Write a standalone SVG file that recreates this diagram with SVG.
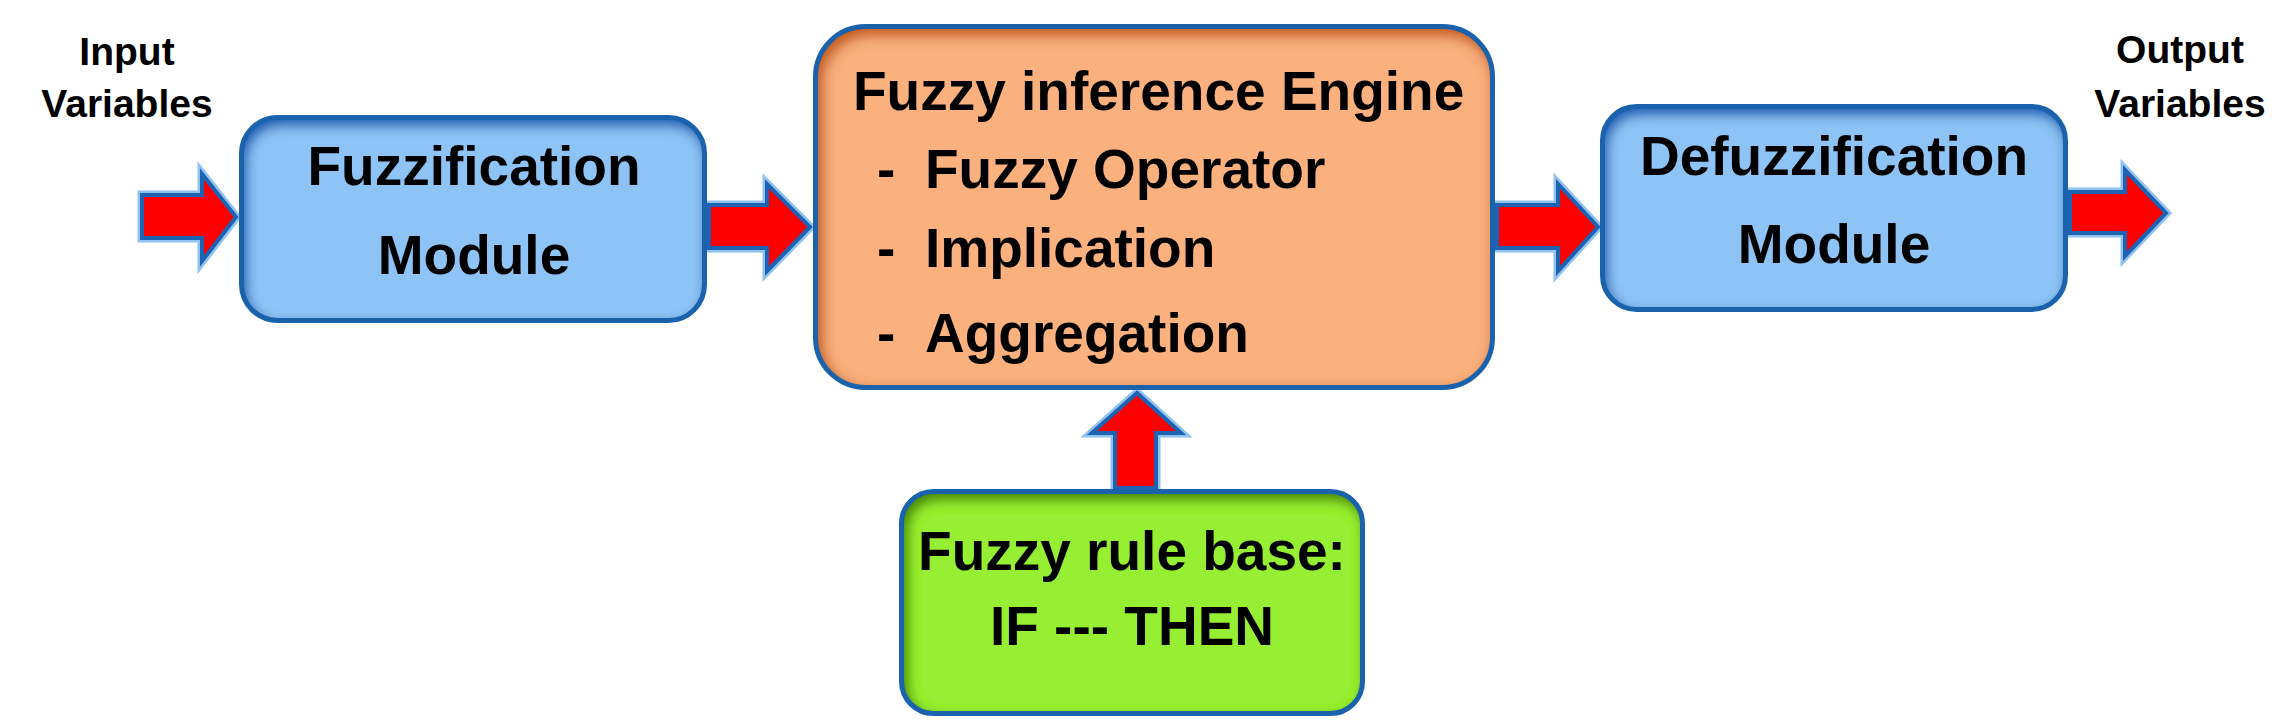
<svg xmlns="http://www.w3.org/2000/svg" width="2292" height="725" viewBox="0 0 2292 725">
  <style>
    .lbl { font-family: "Liberation Sans", Arial, sans-serif; font-size: 39px; font-weight: bold; fill: #000; text-anchor: middle; }
    .box-t { font-family: "Liberation Sans", Arial, sans-serif; font-size: 55px; font-weight: bold; fill: #000; }
    .mid { text-anchor: middle; }
    .edge { fill: none; stroke: #1b62ad; stroke-width: 5; }
    .arrow { fill: #ff0000; stroke: #1c63b3; stroke-width: 4; stroke-linejoin: miter; }
    .arrow-glow { fill: none; stroke: #8fc2ef; stroke-width: 9; stroke-linejoin: miter; }
  </style>
  <defs>
    <filter id="shBlue" x="-10%" y="-15%" width="120%" height="130%">
      <feFlood flood-color="#1a64b8" result="c"/>
      <feComposite in="c" in2="SourceAlpha" operator="out" result="o"/>
      <feGaussianBlur in="o" stdDeviation="7" result="b"/>
      <feOffset in="b" dx="3" dy="6" result="bo"/>
      <feComposite in="bo" in2="SourceAlpha" operator="in" result="s"/>
      <feMerge><feMergeNode in="SourceGraphic"/><feMergeNode in="s"/><feMergeNode in="s"/></feMerge>
    </filter>
    <filter id="shOrange" x="-10%" y="-15%" width="120%" height="130%">
      <feFlood flood-color="#c4580e" result="c"/>
      <feComposite in="c" in2="SourceAlpha" operator="out" result="o"/>
      <feGaussianBlur in="o" stdDeviation="8" result="b"/>
      <feOffset in="b" dx="4" dy="6" result="bo"/>
      <feComposite in="bo" in2="SourceAlpha" operator="in" result="s"/>
      <feMerge><feMergeNode in="SourceGraphic"/><feMergeNode in="s"/><feMergeNode in="s"/></feMerge>
    </filter>
    <filter id="shGreen" x="-10%" y="-15%" width="120%" height="130%">
      <feFlood flood-color="#4a8a08" result="c"/>
      <feComposite in="c" in2="SourceAlpha" operator="out" result="o"/>
      <feGaussianBlur in="o" stdDeviation="7" result="b"/>
      <feOffset in="b" dx="4" dy="6" result="bo"/>
      <feComposite in="bo" in2="SourceAlpha" operator="in" result="s"/>
      <feMerge><feMergeNode in="SourceGraphic"/><feMergeNode in="s"/><feMergeNode in="s"/></feMerge>
    </filter>
  </defs>

  <rect x="0" y="0" width="2292" height="725" fill="#ffffff"/>

  <g id="connectors">
    <g id="arrow-input">
      <polygon class="arrow-glow" points="142,195 202,195 202,174 236,217 202,261 202,238 142,238"/>
      <polygon class="arrow" points="142,195 202,195 202,174 236,217 202,261 202,238 142,238"/>
    </g>
    <g id="arrow-fuzz-engine">
      <polygon class="arrow-glow" points="709,205 767,205 767,184 810,227 767,271 767,248 709,248"/>
      <polygon class="arrow" points="709,205 767,205 767,184 810,227 767,271 767,248 709,248"/>
    </g>
    <g id="arrow-engine-defuzz">
      <polygon class="arrow-glow" points="1497,205 1558,205 1558,184 1598,227 1558,271 1558,248 1497,248"/>
      <polygon class="arrow" points="1497,205 1558,205 1558,184 1598,227 1558,271 1558,248 1497,248"/>
    </g>
    <g id="arrow-output">
      <polygon class="arrow-glow" points="2070,192 2125,192 2125,170 2166,213 2125,256 2125,233 2070,233"/>
      <polygon class="arrow" points="2070,192 2125,192 2125,170 2166,213 2125,256 2125,233 2070,233"/>
    </g>
    <g id="arrow-rules-engine">
      <polygon class="arrow-glow" points="1115,488 1115,433 1092,433 1137,393 1181,433 1156,433 1156,488"/>
      <polygon class="arrow" points="1115,488 1115,433 1092,433 1137,393 1181,433 1156,433 1156,488"/>
    </g>
  </g>

  <g id="input-label">
    <text class="lbl" x="127" y="65">Input</text>
    <text class="lbl" x="127" y="117">Variables</text>
  </g>

  <g id="output-label">
    <text class="lbl" x="2180" y="63">Output</text>
    <text class="lbl" x="2180" y="117">Variables</text>
  </g>

  <g id="fuzzification">
    <rect x="241.5" y="117.5" width="463" height="203" rx="36" fill="#8ec4f5" filter="url(#shBlue)"/>
    <rect class="edge" x="241.5" y="117.5" width="463" height="203" rx="36"/>
    <text class="box-t mid" x="474" y="185">Fuzzification</text>
    <text class="box-t mid" x="474" y="274">Module</text>
  </g>

  <g id="inference-engine">
    <rect x="815.5" y="26.5" width="677" height="361" rx="50" fill="#fbb17e" filter="url(#shOrange)"/>
    <rect class="edge" x="815.5" y="26.5" width="677" height="361" rx="50"/>
    <text class="box-t" x="853" y="110">Fuzzy inference Engine</text>
    <text class="box-t" y="188"><tspan x="877">-</tspan><tspan x="925">Fuzzy Operator</tspan></text>
    <text class="box-t" y="267"><tspan x="877">-</tspan><tspan x="925">Implication</tspan></text>
    <text class="box-t" y="352"><tspan x="877">-</tspan><tspan x="925">Aggregation</tspan></text>
  </g>

  <g id="defuzzification">
    <rect x="1602.5" y="106.5" width="463" height="203" rx="34" fill="#8ec4f5" filter="url(#shBlue)"/>
    <rect class="edge" x="1602.5" y="106.5" width="463" height="203" rx="34"/>
    <text class="box-t mid" x="1834" y="175">Defuzzification</text>
    <text class="box-t mid" x="1834" y="263">Module</text>
  </g>

  <g id="rule-base">
    <rect x="901.5" y="491.5" width="461" height="222" rx="32" fill="#96ef33" filter="url(#shGreen)"/>
    <rect class="edge" x="901.5" y="491.5" width="461" height="222" rx="32"/>
    <text class="box-t mid" x="1132" y="570">Fuzzy rule base:</text>
    <text class="box-t mid" x="1132" y="645">IF --- THEN</text>
  </g>
</svg>
